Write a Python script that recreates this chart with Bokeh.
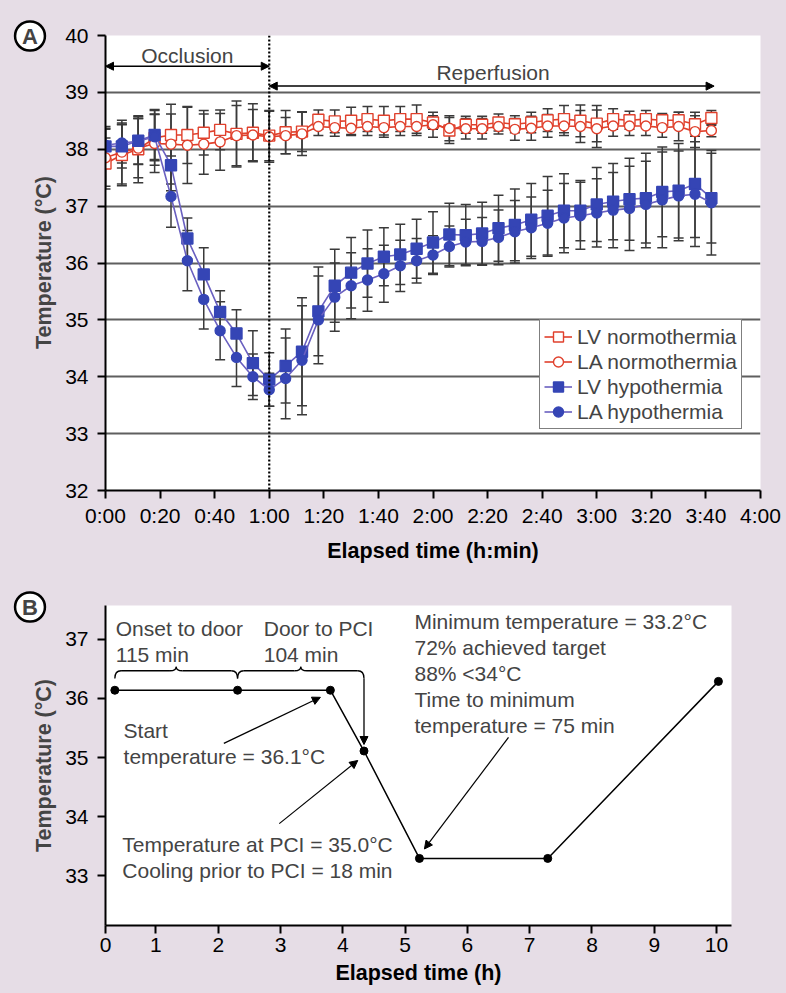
import math
from bokeh.plotting import figure
from bokeh.models import (ColumnDataSource, Whisker, TeeHead, Arrow, NormalHead, Span, Label,
                          Legend, LegendItem, FixedTicker, Range1d)
from bokeh.layouts import column, row
from bokeh.embed import file_html
from bokeh.resources import INLINE

# ---------------- data: panel A ----------------
a_time_min = [0, 6, 12, 18, 24, 30, 36, 42, 48, 54, 60, 66, 72, 78, 84, 90, 96, 102, 108, 114,
              120, 126, 132, 138, 144, 150, 156, 162, 168, 174, 180, 186, 192, 198, 204, 210, 216, 222]

lv_normo = [37.75, 37.90, 38.00, 38.20, 38.25, 38.25, 38.29, 38.34, 38.27, 38.29, 38.24, 38.30, 38.31,
            38.52, 38.49, 38.50, 38.53, 38.50, 38.53, 38.53, 38.47, 38.33, 38.43, 38.43, 38.47, 38.44,
            38.47, 38.51, 38.53, 38.50, 38.45, 38.53, 38.51, 38.53, 38.51, 38.51, 38.44, 38.55]
la_normo = [37.85, 37.95, 38.02, 38.10, 38.09, 38.07, 38.09, 38.13, 38.24, 38.25, 38.22, 38.24, 38.27,
            38.40, 38.38, 38.37, 38.40, 38.38, 38.40, 38.40, 38.43, 38.37, 38.36, 38.36, 38.40, 38.35,
            38.37, 38.41, 38.41, 38.40, 38.36, 38.41, 38.41, 38.41, 38.38, 38.40, 38.31, 38.33]
lv_hypo = [38.05, 38.05, 38.15, 38.25, 37.72, 36.43, 35.80, 35.14, 34.76, 34.24, 33.95, 34.19, 34.44,
           35.15, 35.60, 35.83, 35.99, 36.11, 36.15, 36.25, 36.36, 36.50, 36.49, 36.52, 36.61, 36.67,
           36.76, 36.83, 36.92, 36.92, 37.03, 37.08, 37.12, 37.14, 37.25, 37.27, 37.39, 37.14]
la_hypo = [38.07, 38.11, 38.14, 38.22, 37.17, 36.04, 35.36, 34.81, 34.34, 34.00, 33.77, 33.97, 34.29,
           35.00, 35.40, 35.60, 35.70, 35.81, 35.95, 36.04, 36.14, 36.29, 36.37, 36.38, 36.45, 36.55,
           36.62, 36.70, 36.79, 36.83, 36.88, 36.93, 36.96, 37.03, 37.11, 37.18, 37.21, 37.06]

lv_normo_sd = [0.45, 0.54, 0.59, 0.48, 0.37, 0.50, 0.39, 0.35, 0.58, 0.51, 0.44, 0.38, 0.35, 0.17,
               0.20, 0.24, 0.22, 0.25, 0.22, 0.25, 0.12, 0.23, 0.15, 0.15, 0.15, 0.15, 0.18, 0.20,
               0.24, 0.28, 0.32, 0.18, 0.16, 0.15, 0.12, 0.14, 0.21, 0.13]
la_normo_sd = [0.50, 0.56, 0.52, 0.51, 0.70, 0.67, 0.53, 0.50, 0.53, 0.45, 0.45, 0.32, 0.38, 0.16,
               0.15, 0.13, 0.16, 0.17, 0.16, 0.16, 0.22, 0.22, 0.18, 0.18, 0.13, 0.19, 0.21, 0.20,
               0.17, 0.28, 0.33, 0.18, 0.17, 0.17, 0.17, 0.25, 0.28, 0.11]
lv_hypo_sd = [0.35, 0.38, 0.42, 0.45, 0.45, 0.36, 0.47, 0.37, 0.42, 0.57, 0.47, 0.65, 0.95, 0.78,
              0.64, 0.62, 0.59, 0.51, 0.53, 0.52, 0.54, 0.55, 0.54, 0.55, 0.58, 0.63, 0.64, 0.69,
              0.65, 0.53, 0.65, 0.67, 0.72, 0.79, 0.79, 0.83, 0.94, 0.79]
la_hypo_sd = [0.30, 0.35, 0.40, 0.40, 0.54, 0.53, 0.52, 0.51, 0.51, 0.40, 0.29, 0.71, 0.96, 0.77,
              0.60, 0.58, 0.55, 0.50, 0.45, 0.39, 0.34, 0.36, 0.40, 0.42, 0.48, 0.55, 0.54, 0.58,
              0.61, 0.59, 0.60, 0.66, 0.74, 0.76, 0.84, 0.79, 0.92, 0.92]

a_series_names = ["LV normothermia", "LA normothermia", "LV hypothermia", "LA hypothermia"]
a_xticks = [0, 20, 40, 60, 80, 100, 120, 140, 160, 180, 200, 220, 240]
a_xtick_labels = ["0:00", "0:20", "0:40", "1:00", "1:20", "1:40", "2:00", "2:20", "2:40",
                  "3:00", "3:20", "3:40", "4:00"]
a_yticks = [32, 33, 34, 35, 36, 37, 38, 39, 40]
a_grid_values = [33, 34, 35, 36, 37, 38, 39]
occlusion_end_min = 60
reperfusion_end_min = 223
phase_labels = ["Occlusion", "Reperfusion"]

# ---------------- data: panel B ----------------
b_time_h = [0.34, 2.31, 3.80, 4.34, 5.23, 7.29, 10.03]
b_temp = [36.14, 36.14, 36.14, 35.11, 33.29, 33.29, 36.29]
b_xticks = [0.19, 1, 2, 3, 4, 5, 6, 7, 8, 9, 10]
b_xtick_labels = ["0", "1", "2", "3", "4", "5", "6", "7", "8", "9", "10"]
b_yticks = [33, 34, 35, 36, 37]
brace_titles = ["Onset to door", "Door to PCI"]
brace_durations = ["115 min", "104 min"]
start_note = ["Start", "temperature = 36.1\u00b0C"]
pci_note = ["Temperature at PCI = 35.0\u00b0C", "Cooling prior to PCI = 18 min"]
min_note = ["Minimum temperature = 33.2\u00b0C", "72% achieved target", "88% <34\u00b0C",
            "Time to minimum", "temperature = 75 min"]
y_title = "Temperature (\u00b0C)"

# ---------------- styles ----------------
BG = "#e6dde6"
FONT = "Liberation Sans"
FS = "21px"
FSB = "21.5px"
RED = "#e0402c"
BLUE = "#3545b5"
HYPO_LINE = "#6a60c0"
GRID = "#5f5f5f"
ERR = "#3a3a3a"
SIDE_W = 60


def style_axes(p, yticks):
    for ax in (p.xaxis[0], p.yaxis[0]):
        ax.axis_line_color = "black"
        ax.axis_line_width = 2
        ax.major_tick_line_color = "black"
        ax.major_tick_line_width = 2
        ax.major_tick_out = 8
        ax.major_tick_in = 0
        ax.minor_tick_line_color = None
        ax.major_label_text_font = FONT
        ax.major_label_text_font_size = FS
        ax.major_label_text_color = "black"
        ax.axis_label_text_font = FONT
        ax.axis_label_text_font_style = "bold"
        ax.axis_label_text_font_size = FSB
        ax.axis_label_text_color = "black"
    p.yaxis[0].ticker = FixedTicker(ticks=yticks)
    p.yaxis[0].major_label_standoff = 9


def side_strip(height, letter, letter_y, title_y):
    s = figure(width=SIDE_W, height=height, x_range=Range1d(0, SIDE_W), y_range=Range1d(0, height),
               x_axis_type=None, y_axis_type=None, output_backend="svg", toolbar_location=None,
               title=None, min_border=0, frame_align=False,
               background_fill_color=BG, border_fill_color=BG, outline_line_color=None)
    s.grid.visible = False
    s.add_layout(Label(x=29.5, y=letter_y, text=letter, text_font=FONT, text_font_style="bold",
                       text_font_size="22px", text_align="center", text_baseline="middle",
                       background_fill_color="white", border_line_color="black",
                       border_line_width=2.5, padding=(7, 2), border_radius=15))
    s.add_layout(Label(x=43, y=title_y, text=y_title, angle=math.pi / 2, text_font=FONT,
                       text_font_style="bold", text_font_size=FSB, text_align="center",
                       text_baseline="middle"))
    return s


# ================= Panel A =================
HA = 576
pA = figure(width=786 - SIDE_W, height=HA, x_range=Range1d(0, 240), y_range=Range1d(32, 40),
            output_backend="svg", toolbar_location=None, frame_align=False,
            min_border_left=105 - SIDE_W, min_border_right=26, min_border_top=35, min_border_bottom=86,
            background_fill_color="white", border_fill_color=BG, outline_line_color=None)
style_axes(pA, a_yticks)
pA.xaxis[0].ticker = FixedTicker(ticks=a_xticks)
pA.xaxis[0].major_label_overrides = {t: l for t, l in zip(a_xticks, a_xtick_labels)}
pA.xaxis[0].major_label_standoff = 5
pA.xaxis[0].axis_label_standoff = 9
pA.xaxis.axis_label = "Elapsed time (h:min)"
pA.xgrid.visible = False
pA.ygrid.ticker = FixedTicker(ticks=a_grid_values)
pA.ygrid.grid_line_color = GRID
pA.ygrid.grid_line_width = 2

series = [
    (lv_normo, lv_normo_sd, RED, RED, "square", "white", 11),
    (la_normo, la_normo_sd, RED, RED, "circle", "white", 10),
    (lv_hypo, lv_hypo_sd, HYPO_LINE, BLUE, "square", BLUE, 11),
    (la_hypo, la_hypo_sd, HYPO_LINE, BLUE, "circle", BLUE, 10),
]
for vals, sd, _, _, _, _, _ in series:
    src = ColumnDataSource(dict(t=a_time_min,
                                lo=[v - s for v, s in zip(vals, sd)],
                                up=[v + s for v, s in zip(vals, sd)]))
    pA.add_layout(Whisker(source=src, base="t", lower="lo", upper="up", dimension="height",
                          line_color=ERR, line_width=1.5,
                          upper_head=TeeHead(size=10, line_color=ERR, line_width=1.5),
                          lower_head=TeeHead(size=10, line_color=ERR, line_width=1.5)))

legend_items = []
for name, (vals, sd, lc, mc, marker, fill, size) in zip(a_series_names, series):
    lr = pA.line(a_time_min, vals, line_color=lc, line_width=1.6)
    sr = pA.scatter(a_time_min, vals, marker=marker, size=size, line_color=mc,
                    fill_color=fill, line_width=1.4)
    legend_items.append(LegendItem(label=name, renderers=[lr, sr]))

pA.add_layout(Span(location=occlusion_end_min, dimension="height", line_color="black",
                   line_width=2.2, line_dash="2 2"))
for y_arrow, xs, xe in [(39.46, 0, occlusion_end_min), (39.11, occlusion_end_min, reperfusion_end_min)]:
    pA.add_layout(Arrow(x_start=xs, y_start=y_arrow, x_end=xe, y_end=y_arrow,
                        line_width=1.5, line_color="black",
                        start=NormalHead(size=8, fill_color="black", line_color="black"),
                        end=NormalHead(size=8, fill_color="black", line_color="black")))
pA.add_layout(Label(x=occlusion_end_min / 2, y=39.65, text=phase_labels[0], text_font=FONT,
                    text_font_size=FS, text_align="center", text_baseline="middle"))
pA.add_layout(Label(x=142, y=39.35, text=phase_labels[1], text_font=FONT,
                    text_font_size=FS, text_align="center", text_baseline="middle"))

legend = Legend(items=legend_items, location=(434, 61), label_text_font=FONT,
                label_text_font_size=FS, label_height=25, glyph_height=25, glyph_width=28,
                label_standoff=5, spacing=0, padding=4, margin=0,
                border_line_color="black", border_line_width=1.5,
                background_fill_color="white", background_fill_alpha=1.0)
pA.add_layout(legend)
sA = side_strip(HA, "A", HA - 35.5, HA - 262)

# ================= Panel B =================
HB = 993 - HA
pB = figure(width=786 - SIDE_W, height=HB, x_range=Range1d(0.19, 10.24),
            y_range=Range1d(32.153, 37.576),
            output_backend="svg", toolbar_location=None, frame_align=False,
            min_border_left=105 - SIDE_W, min_border_right=55, min_border_top=605 - HA,
            min_border_bottom=HB - (925 - HA),
            background_fill_color="white", border_fill_color=BG, outline_line_color=None)
style_axes(pB, b_yticks)
pB.xaxis[0].ticker = FixedTicker(ticks=b_xticks)
pB.xaxis[0].major_label_overrides = {t: l for t, l in zip(b_xticks, b_xtick_labels)}
pB.xaxis[0].major_label_standoff = 4
pB.xaxis[0].axis_label_standoff = 6
pB.xaxis.axis_label = "Elapsed time (h)"
pB.xgrid.visible = False
pB.ygrid.visible = False

pB.line(b_time_h, b_temp, line_color="black", line_width=1.5)
pB.scatter(b_time_h, b_temp, marker="circle", size=8, fill_color="black", line_color="black")

# braces above the pre-PCI segments
d = 0.1
label_shift = [0.015, 0.42]
for k, (i0, i1) in enumerate([(0, 1), (1, 3)]):
    x0, x1 = b_time_h[i0], b_time_h[i1]
    xm = (x0 + x1) / 2
    y0 = b_temp[i0]
    ya, yb, yc = y0 + 0.20, y0 + 0.33, y0 + 0.40
    pB.quadratic(x0=[x0, xm - d, xm, x1 - d], y0=[ya, yb, yc, yb],
                 x1=[x0 + d, xm, xm + d, x1], y1=[yb, yc, yb, ya],
                 cx=[x0, xm, xm, x1], cy=[yb, yb, yb, yb], line_color="black", line_width=1.3)
    pB.segment(x0=[x0 + d, xm + d], y0=[yb, yb], x1=[xm - d, x1 - d], y1=[yb, yb],
               line_color="black", line_width=1.3)
    pB.add_layout(Label(x=x0 + label_shift[k], y=37.19, text=brace_titles[k], text_font=FONT,
                        text_font_size=FS, text_baseline="middle"))
    pB.add_layout(Label(x=x0 + label_shift[k], y=36.75, text=brace_durations[k], text_font=FONT,
                        text_font_size=FS, text_baseline="middle"))
    if k == 1:
        pB.add_layout(Arrow(x_start=x1, y_start=ya, x_end=x1, y_end=b_temp[i1] + 0.11,
                            line_width=1.3, line_color="black",
                            end=NormalHead(size=8, fill_color="black", line_color="black")))

head = dict(size=8, fill_color="black", line_color="black")
pB.add_layout(Arrow(x_start=2.09, y_start=35.24, x_end=3.64, y_end=36.02, line_width=1.2,
                    line_color="black", end=NormalHead(**head)))
pB.add_layout(Arrow(x_start=2.98, y_start=33.88, x_end=4.24, y_end=34.95, line_width=1.2,
                    line_color="black", end=NormalHead(**head)))
pB.add_layout(Arrow(x_start=6.66, y_start=35.34, x_end=5.31, y_end=33.45, line_width=1.2,
                    line_color="black", end=NormalHead(**head)))

for txt, yv in zip(start_note, [35.46, 35.02]):
    pB.add_layout(Label(x=0.48, y=yv, text=txt, text_font=FONT, text_font_size=FS,
                        text_baseline="middle"))
for txt, yv in zip(pci_note, [33.53, 33.08]):
    pB.add_layout(Label(x=0.46, y=yv, text=txt, text_font=FONT, text_font_size=FS,
                        text_baseline="middle"))
for txt, yv in zip(min_note, [37.31, 36.86, 36.42, 35.98, 35.54]):
    pB.add_layout(Label(x=5.15, y=yv, text=txt, text_font=FONT, text_font_size=FS,
                        text_baseline="middle"))

sB = side_strip(HB, "B", HB - (606.5 - HA), HB - (765 - HA))

bg_style = {"background-color": BG}
layout = column(row(sA, pA, spacing=0, styles=bg_style), row(sB, pB, spacing=0, styles=bg_style),
                spacing=0, styles=bg_style)
open("out.html", "w").write(file_html(layout, INLINE))
